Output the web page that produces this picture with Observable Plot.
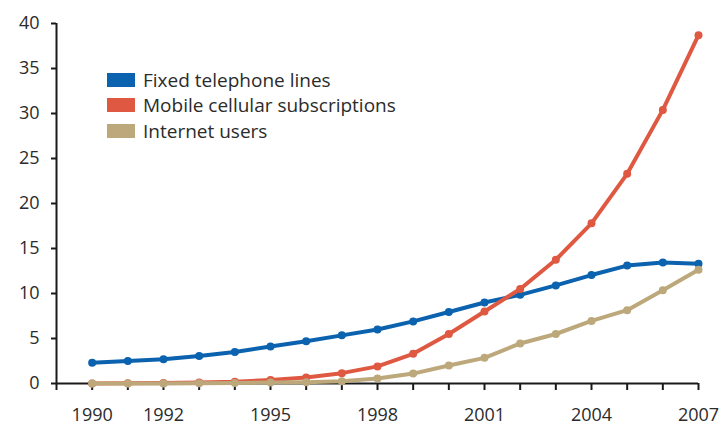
<!DOCTYPE html>
<html>
<head>
<meta charset="utf-8">
<script src="https://cdn.jsdelivr.net/npm/d3@7"></script>
<script src="https://cdn.jsdelivr.net/npm/@observablehq/plot@0.6"></script>
<style>
  html, body { margin: 0; padding: 0; background: #fff; }
  #chart { position: relative; width: 720px; height: 425px; overflow: hidden; }
  #legend { position: absolute; left: 107px; top: 67px; font-family: "Open Sans", sans-serif; font-size: 19px; color: #2b2b2b; }
  .row { display: flex; align-items: center; height: 25.5px; }
  .sw { width: 28px; height: 14px; margin-right: 8px; }
</style>
</head>
<body>
<div id="chart"><div id="legend"></div></div>
<script>
const years = [1990,1991,1992,1993,1994,1995,1996,1997,1998,1999,2000,2001,2002,2003,2004,2005,2006,2007];
const fixedLines = [2.3,2.5,2.7,3.05,3.5,4.1,4.7,5.35,6.0,6.9,7.95,9.0,9.85,10.9,12.05,13.1,13.45,13.3];
const mobile = [0.0,0.02,0.05,0.1,0.2,0.4,0.67,1.15,1.9,3.3,5.5,8.0,10.5,13.75,17.8,23.3,30.4,38.7];
const internet = [0.0,0.0,0.0,0.02,0.05,0.1,0.15,0.25,0.55,1.1,2.0,2.85,4.45,5.5,6.95,8.15,10.35,12.65];
const seriesNames = ["Fixed telephone lines","Mobile cellular subscriptions","Internet users"];
const seriesColors = ["#0b62ae","#df5942","#bca87b"];
const yTicks = [0,5,10,15,20,25,30,35,40];
const xTickYears = [1989,...years];
const xLabelYears = [1990,1992,1995,1998,2001,2004,2007];

const allSeries = [fixedLines, mobile, internet];
const data = [];
allSeries.forEach((vals, si) => vals.forEach((v, i) => data.push({series: seriesNames[si], year: years[i], value: v})));

const marks = [
  Plot.ruleY([0], {stroke: "#1a1a1a", strokeWidth: 2}),
  Plot.ruleX([1989], {y1: 0, y2: 40, stroke: "#1a1a1a", strokeWidth: 2}),
  Plot.axisY({ticks: yTicks, tickSize: 5, tickPadding: 12, label: null, tickFormat: d => d, stroke: "#1a1a1a", strokeWidth: 2, fill: "#2b2b2b", fontSize: 18}),
  Plot.axisX({ticks: xTickYears, tickSize: 7, label: null, tickFormat: () => "", stroke: "#1a1a1a", strokeWidth: 2}),
  Plot.axisX({ticks: xLabelYears, tickSize: 0, tickPadding: 25, label: null, tickFormat: d => String(d), fill: "#2b2b2b", fontSize: 18})
];
seriesNames.forEach((name, si) => {
  const d = data.filter(r => r.series === name);
  marks.push(Plot.line(d, {x: "year", y: "value", stroke: seriesColors[si], strokeWidth: 4, strokeLinejoin: "round"}));
  marks.push(Plot.dot(d, {x: "year", y: "value", fill: seriesColors[si], r: 4}));
});

const chart = Plot.plot({
  width: 720, height: 425,
  marginLeft: 56, marginRight: 22, marginTop: 23, marginBottom: 42,
  style: {fontFamily: "'Open Sans', sans-serif", fontSize: "18px", background: "#fff", overflow: "visible"},
  x: {domain: [1989, 2007], axis: null},
  y: {domain: [0, 40], axis: null},
  marks
});
const container = document.getElementById("chart");
container.insertBefore(chart, container.firstChild);

const legend = document.getElementById("legend");
seriesNames.forEach((name, si) => {
  const row = document.createElement("div"); row.className = "row";
  const sw = document.createElement("div"); sw.className = "sw"; sw.style.background = seriesColors[si];
  const t = document.createElement("span"); t.textContent = name;
  row.appendChild(sw); row.appendChild(t); legend.appendChild(row);
});
</script>
</body>
</html>
